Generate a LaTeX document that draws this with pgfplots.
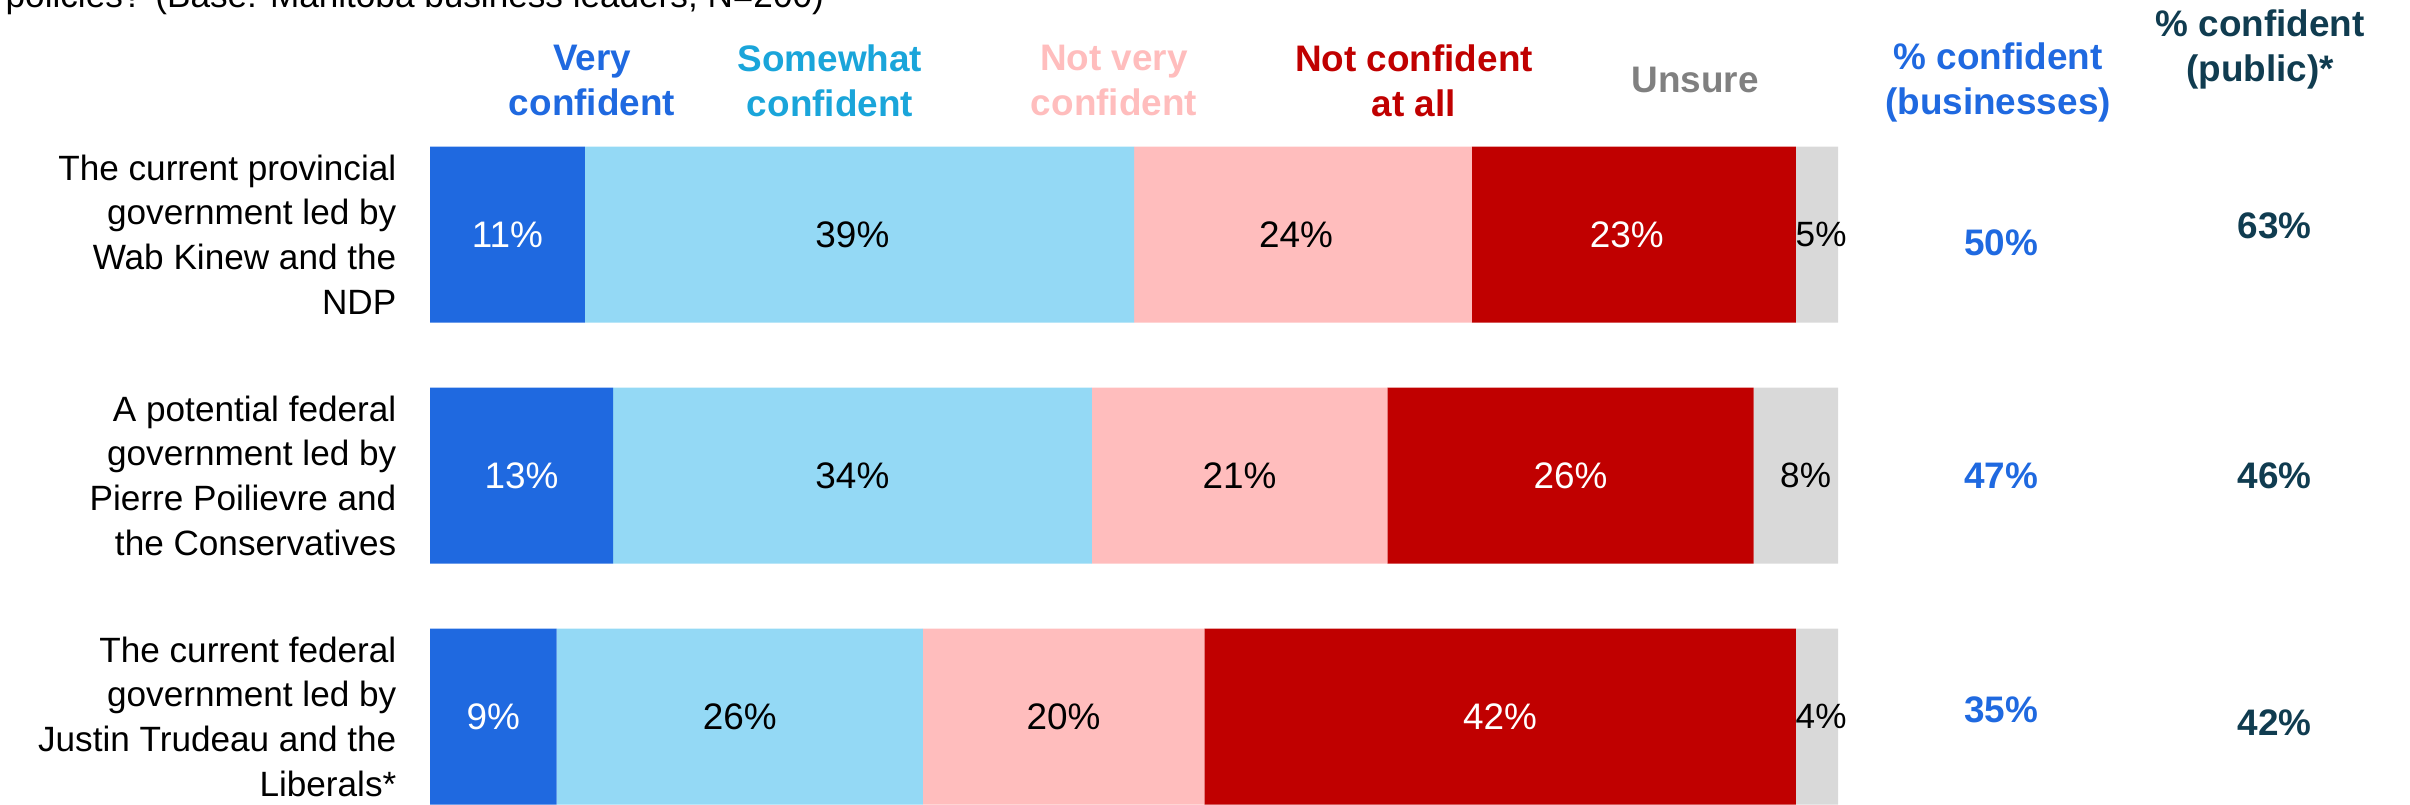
\documentclass[border=0pt]{standalone}
\usepackage{pgfplots}
\pgfplotsset{compat=1.18}
\usepackage{fontspec}
\setmainfont{Liberation Sans}

\definecolor{vconf}{RGB}{31,105,224}
\definecolor{sconf}{RGB}{148,217,245}
\definecolor{shead}{RGB}{26,165,218}
\definecolor{nvery}{RGB}{255,189,189}
\definecolor{nall}{RGB}{192,0,0}
\definecolor{unsure}{RGB}{217,217,217}
\definecolor{uhead}{RGB}{128,128,128}
\definecolor{pub}{RGB}{16,60,80}

\newcommand{\lbl}{\fontsize{10}{12.7}\selectfont}
\newcommand{\hd}{\fontsize{10.5}{12.8}\selectfont\bfseries}
\newcommand{\val}{\fontsize{10.5}{12.6}\selectfont}

\pgfplotsset{
  frame/.style={at={(4.30cm,0cm)}, anchor=south west, scale only axis,
    width=14.08cm, height=7.23cm,
    xmin=0, xmax=100, ymin=-0.363, ymax=2.637},
  txt/.style={only marks, mark=none, nodes near coords, point meta=explicit symbolic,
    every node near coord/.append style={anchor=center, #1}},
}

\begin{document}
\begin{tikzpicture}
\useasboundingbox (0,0) rectangle (24.10,8.04);
\clip (0,0) rectangle (24.10,8.04);

% cut-off question line at the top
\node[anchor=base west, inner sep=0pt, font=\lbl] at (0.05,7.97)
  {policies? (Base: Manitoba business leaders; N=200)};

% column headers
\node[align=center, font=\hd, text=vconf] at (5.92,7.235) {Very\\confident};
\node[align=center, font=\hd, text=shead] at (8.30,7.235) {Somewhat\\confident};
\node[align=center, font=\hd, text=nvery] at (11.14,7.235) {Not very\\confident};
\node[align=center, font=\hd, text=nall] at (14.14,7.235) {Not confident\\at all};
\node[align=center, font=\hd, text=uhead] at (16.95,7.24) {Unsure};
\node[align=center, font=\hd, text=vconf] at (19.98,7.215) {\% confident\\(businesses)};
\node[align=center, font=\hd, text=pub] at (22.60,7.55) {\% confident\\(public)*};

% stacked bars, clipped at 100
\begin{axis}[frame,
  xbar stacked, bar width=1.76cm,
  axis line style={draw=none}, major tick length=0pt,
  xtick=\empty, ytick={0,1,2},
  yticklabels={{The current federal\\government led by\\Justin Trudeau and the\\Liberals*},
               {A potential federal\\government led by\\Pierre Poilievre and\\the Conservatives},
               {The current provincial\\government led by\\Wab Kinew and the\\NDP}},
  yticklabel style={align=right, font=\lbl, inner sep=0pt, xshift=-0.33cm},
]
\addplot[fill=vconf, draw=none] coordinates {(11,2) (13,1) (9,0)};
\addplot[fill=sconf, draw=none] coordinates {(39,2) (34,1) (26,0)};
\addplot[fill=nvery, draw=none] coordinates {(24,2) (21,1) (20,0)};
\addplot[fill=nall, draw=none] coordinates {(23,2) (26,1) (42,0)};
\addplot[fill=unsure, draw=none] coordinates {(5,2) (8,1) (4,0)};
\end{axis}

% segment labels and the two summary columns
\begin{axis}[frame, hide axis, clip=false]
\addplot[txt={text=white, font=\val}] coordinates
  {(5.5,2) [11\%] (6.5,1) [13\%] (4.5,0) [9\%]
   (85,2) [23\%] (81,1) [26\%] (76,0) [42\%]};
\addplot[txt={text=black, font=\val}] coordinates
  {(30,2) [39\%] (30,1) [34\%] (22,0) [26\%]
   (61.5,2) [24\%] (57.5,1) [21\%] (45,0) [20\%]};
\addplot[txt={text=black, font=\lbl}] coordinates
  {(98.8,2) [5\%] (97.7,1) [8\%] (98.8,0) [4\%]};
\addplot[txt={text=vconf, font=\val\bfseries}] coordinates
  {(111.6,1.965) [50\%] (111.6,1) [47\%] (111.6,0.027) [35\%]};
\addplot[txt={text=pub, font=\val\bfseries}] coordinates
  {(131.0,2.035) [63\%] (131.0,1) [46\%] (131.0,-0.025) [42\%]};
\end{axis}
\end{tikzpicture}
\end{document}
